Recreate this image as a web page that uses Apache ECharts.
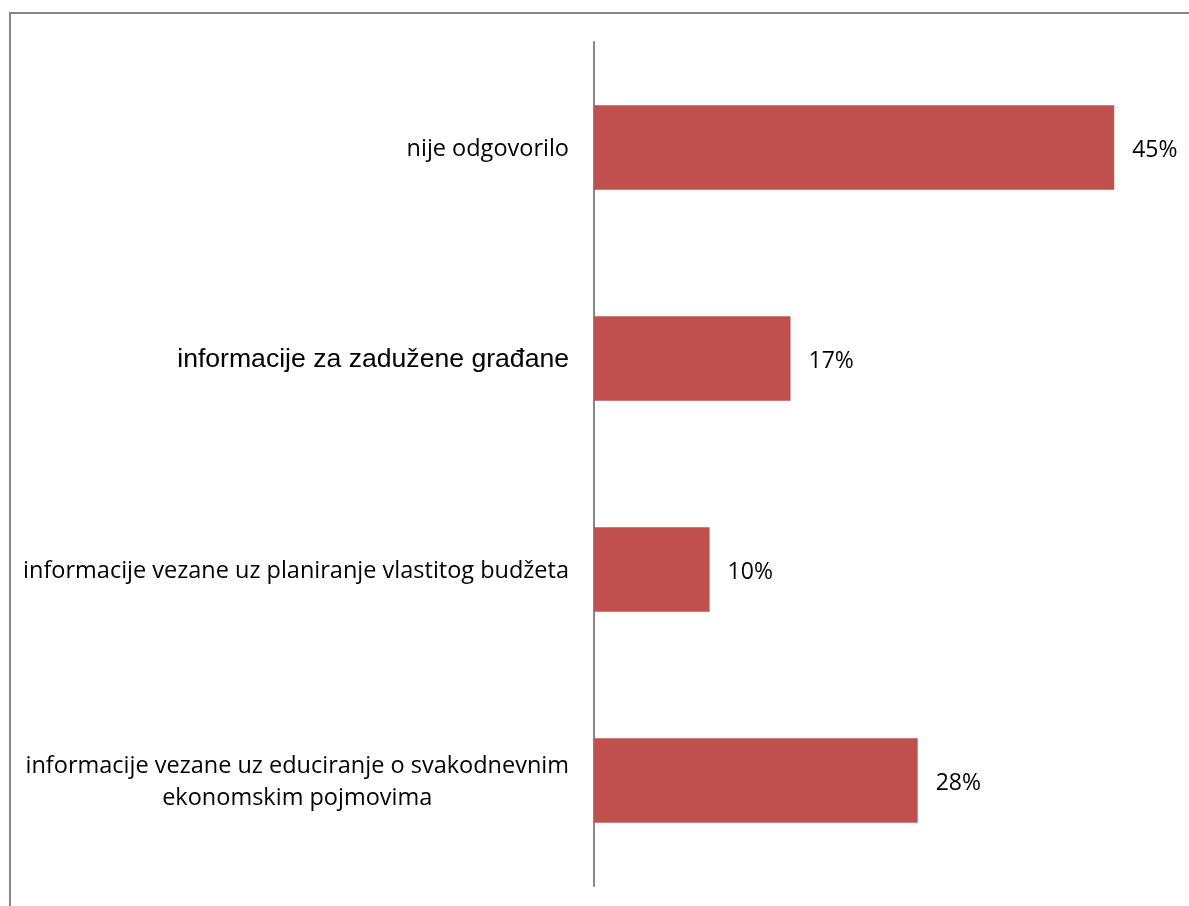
<!DOCTYPE html>
<html>
<head>
<meta charset="utf-8">
<style>
  html, body { margin: 0; padding: 0; background: #ffffff; }
  #chart { width: 1189px; height: 906px; }
</style>
<script src="https://cdn.jsdelivr.net/npm/echarts@6/dist/echarts.min.js"></script>
</head>
<body>
<div id="chart"></div>
<script>
// Categories listed bottom to top (category axis grows upward)
const categories = [
  'informacije vezane uz educiranje o svakodnevnim\nekonomskim pojmovima',
  'informacije vezane uz planiranje vlastitog budžeta',
  'informacije za zadužene građane',
  'nije odgovorilo'
];
const shares = [28, 10, 17, 45];

const BAR_COLOR = '#C0504D';
const LABEL_FONT = '"Open Sans", Lato, sans-serif';

function categoryLabel(value) {
  if (value === 'informacije za zadužene građane') {
    return '{arial|' + value + '}';
  }
  return value.split('\n').map(function (line) { return '{c|' + line + '}'; }).join('\n');
}

const chart = echarts.init(document.getElementById('chart'), null, { renderer: 'canvas' });

chart.setOption({
  animation: false,
  backgroundColor: '#ffffff',
  graphic: [{
    type: 'rect',
    shape: { x: 10, y: 13, width: 1200, height: 1000 },
    style: { fill: 'none', stroke: '#878787', lineWidth: 2 },
    silent: true
  }],
  grid: { left: 594, right: 17, top: 42, bottom: 20, containLabel: false },
  xAxis: {
    type: 'value',
    min: 0,
    max: 50,
    show: false,
    splitLine: { show: false }
  },
  yAxis: {
    type: 'category',
    data: categories,
    axisLine: { show: true, lineStyle: { color: '#878787', width: 2 } },
    axisTick: { show: false },
    axisLabel: {
      margin: 25,
      color: '#000000',
      formatter: categoryLabel,
      rich: {
        c: { fontFamily: LABEL_FONT, fontSize: 23.5, color: '#000000', align: 'center', lineHeight: 32, padding: [4, 0, 0, 0] },
        arial: { fontFamily: '"Liberation Sans", Arial, sans-serif', fontSize: 26.6, color: '#000000', padding: [2, 0, 0, 0] }
      }
    }
  },
  series: [{
    type: 'bar',
    data: shares,
    barWidth: '40%',
    itemStyle: { color: BAR_COLOR },
    label: {
      show: true,
      position: 'right',
      distance: 18,
      offset: [0, 3],
      formatter: '{c}%',
      fontFamily: LABEL_FONT,
      fontSize: 23,
      color: '#000000'
    }
  }]
});
</script>
</body>
</html>
